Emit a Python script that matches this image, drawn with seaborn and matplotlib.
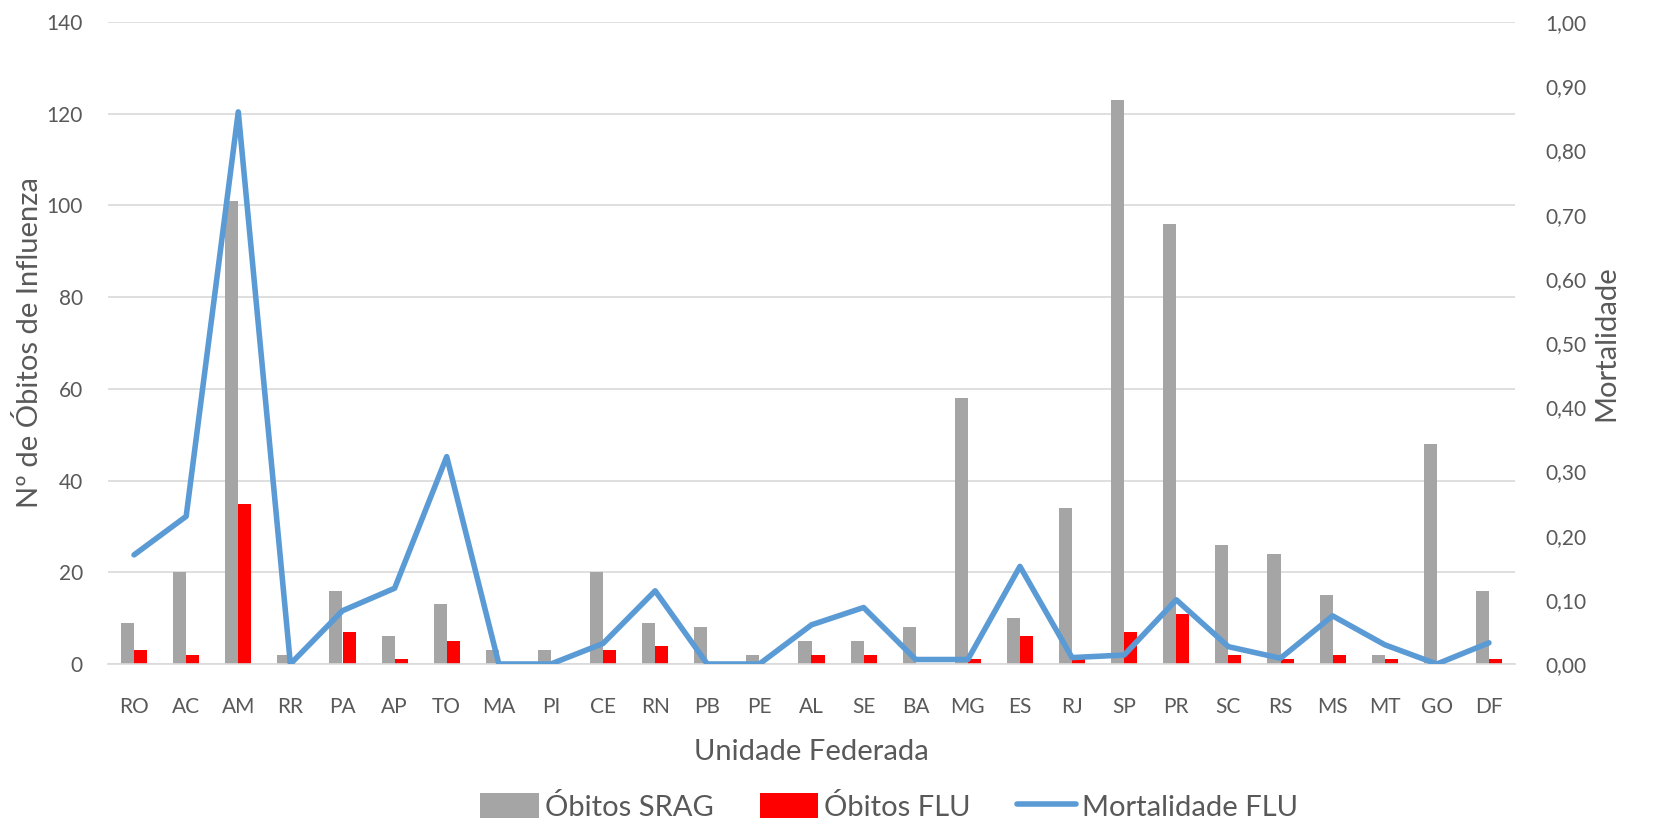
import numpy as np
import pandas as pd
import matplotlib
matplotlib.use("Agg")
import matplotlib.pyplot as plt
import seaborn as sns
from matplotlib.patches import Patch
from matplotlib.lines import Line2D
from matplotlib.ticker import FuncFormatter

ufs = ["RO", "AC", "AM", "RR", "PA", "AP", "TO", "MA", "PI", "CE", "RN", "PB", "PE", "AL",
       "SE", "BA", "MG", "ES", "RJ", "SP", "PR", "SC", "RS", "MS", "MT", "GO", "DF"]
obitos_srag = [9, 20, 101, 2, 16, 6, 13, 3, 3, 20, 9, 8, 2, 5, 5, 8, 58, 10, 34, 123, 96, 26, 24, 15, 2, 48, 16]
obitos_flu = [3, 2, 35, 0, 7, 1, 5, 0, 0, 3, 4, 0, 0, 2, 2, 0, 1, 6, 1, 7, 11, 2, 1, 2, 1, 0, 1]
mortalidade_flu = [0.17, 0.23, 0.86, 0.0, 0.083, 0.118, 0.323, 0.0, 0.0, 0.032, 0.114, 0.0, 0.0, 0.061,
                   0.088, 0.007, 0.007, 0.152, 0.010, 0.014, 0.10, 0.027, 0.009, 0.075, 0.030, 0.0, 0.033]
series_names = ["Óbitos SRAG", "Óbitos FLU", "Mortalidade FLU"]

sns.set_theme(style="white")
plt.rcParams["font.family"] = ["Lato", "DejaVu Sans"]

GRAY = "#A5A5A5"
RED = "#FF0000"
BLUE = "#5B9BD5"
TXT = "#595959"

df = pd.DataFrame({
    "UF": ufs * 2,
    "valor": obitos_srag + obitos_flu,
    "serie": [series_names[0]] * len(ufs) + [series_names[1]] * len(ufs),
})

fig = plt.figure(figsize=(16.71, 8.24), dpi=100)
ax = fig.add_axes([108 / 1671, 1 - 664 / 824, (1515 - 108) / 1671, (664 - 22) / 824])

sns.barplot(data=df, x="UF", y="valor", hue="serie", order=ufs,
            palette=[GRAY, RED], width=0.5, dodge=True, ax=ax, legend=False,
            saturation=1, linewidth=0)

ax.set_ylim(0, 140)
ax.set_yticks(np.arange(0, 141, 20))
ax.set_xlim(-0.5, len(ufs) - 0.5)
ax.grid(axis="y", color="#D9D9D9", linewidth=1.2)
ax.set_axisbelow(True)
for s in ["top", "right", "left"]:
    ax.spines[s].set_visible(False)
ax.spines["bottom"].set_color("#D9D9D9")
ax.spines["bottom"].set_linewidth(1.2)
ax.tick_params(axis="both", length=0, labelsize=15, colors=TXT)
ax.tick_params(axis="x", pad=24)
ax.tick_params(axis="y", pad=18)
ax.set_xlabel("Unidade Federada", fontsize=21, color=TXT)
ax.set_ylabel("Nº de Óbitos de Influenza", fontsize=21, color=TXT)
ax.xaxis.set_label_coords(0.5, (664 - 752) / 642, transform=ax.transAxes)
ax.yaxis.set_label_coords((30 - 108) / 1407, 0.5, transform=ax.transAxes)
ax.xaxis.label.set_va("center")
ax.yaxis.label.set_va("center")

ax2 = ax.twinx()
sns.lineplot(x=np.arange(len(ufs)), y=mortalidade_flu, color=BLUE, linewidth=4, ax=ax2)
ax2.set_ylim(0, 1.0)
ax2.set_yticks(np.arange(0, 1.01, 0.1))
ax2.yaxis.set_major_formatter(FuncFormatter(lambda v, p: f"{v:.2f}".replace(".", ",")))
for s in ["top", "right", "left", "bottom"]:
    ax2.spines[s].set_visible(False)
ax2.tick_params(axis="y", length=0, labelsize=15, colors=TXT, pad=22)
ax2.set_ylabel("Mortalidade", fontsize=21, color=TXT)
ax2.yaxis.set_label_coords((1606 - 108) / 1407, 0.5, transform=ax2.transAxes)
ax2.yaxis.label.set_va("center")
ax2.grid(False)
ax2.set_xlim(-0.5, len(ufs) - 0.5)

handles = [Patch(facecolor=GRAY, edgecolor="none"),
           Patch(facecolor=RED, edgecolor="none"),
           Line2D([0], [0], color=BLUE, linewidth=4)]
fig.legend(handles, series_names, loc="center", bbox_to_anchor=(0.532, 1 - 807 / 824),
           ncol=3, frameon=False, fontsize=21, labelcolor=TXT,
           handlelength=2.0, handleheight=0.9, handletextpad=0.2, columnspacing=1.6)

fig.savefig("out.png", dpi=100, facecolor="white")
